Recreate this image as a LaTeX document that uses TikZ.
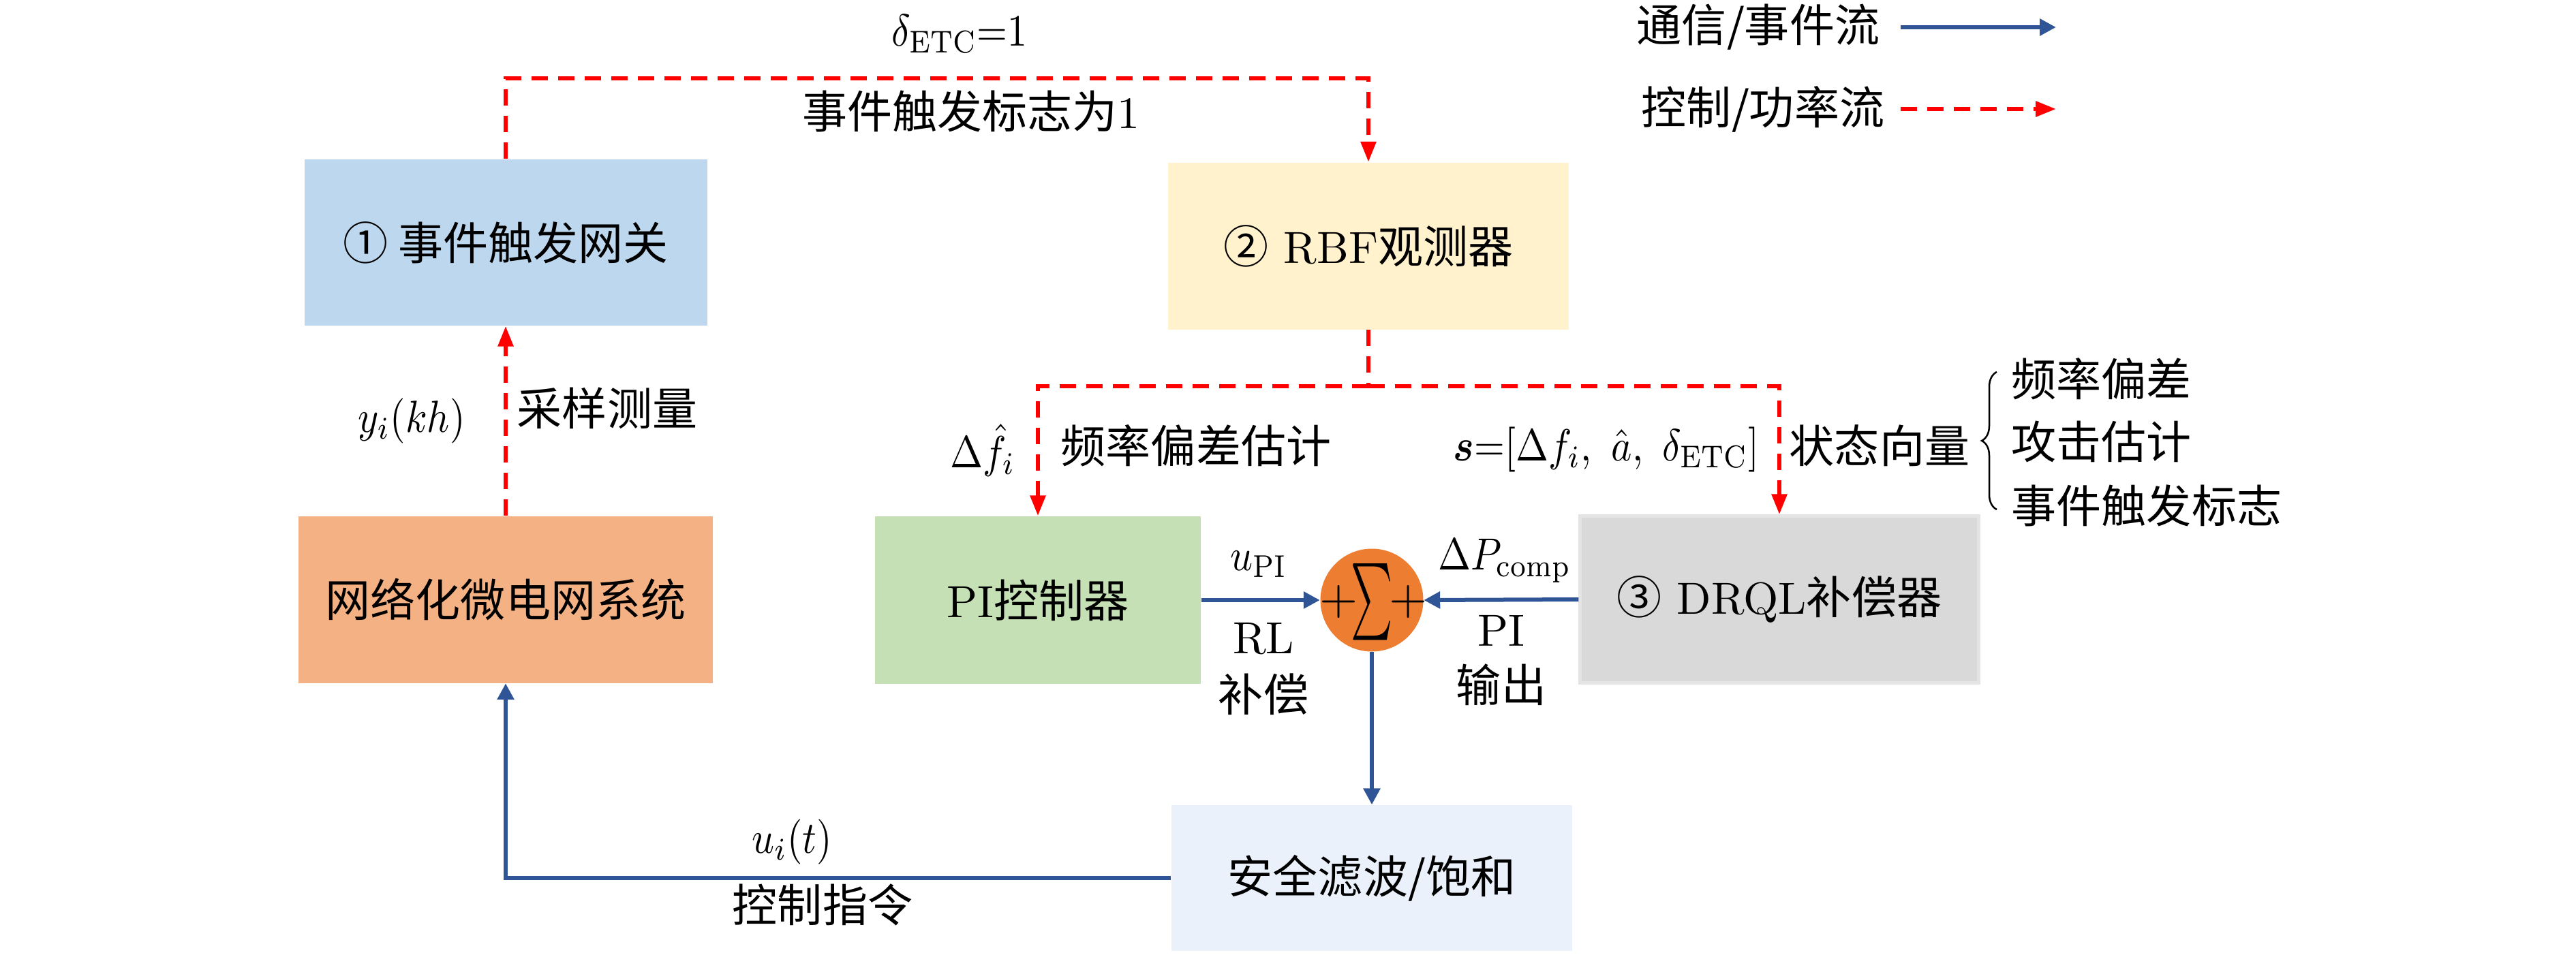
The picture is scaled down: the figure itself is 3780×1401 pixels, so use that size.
\documentclass[tikz,border=0pt]{standalone}
\usepackage{amsmath}
\usepackage{fontspec}
\newfontfamily\cjkfont{Noto Sans CJK SC}
\newcommand\zhtxt[1]{{\cjkfont #1}}
\newcommand\sz[1]{\scalebox{1.88}{#1}}
\newcommand\szm[1]{\scalebox{1.64}[1.88]{#1}}
\newcommand\vc[1]{\vcenter{\hbox{#1}}}
\usetikzlibrary{arrows.meta,decorations.pathreplacing}
\definecolor{cgate}{RGB}{189,215,238}
\definecolor{crbf}{RGB}{255,242,204}
\definecolor{cpi}{RGB}{197,224,180}
\definecolor{cdrql}{RGB}{217,217,217}
\definecolor{cdrqlb}{RGB}{228,228,228}
\definecolor{cnet}{RGB}{244,177,131}
\definecolor{csafe}{RGB}{234,241,250}
\definecolor{csum}{RGB}{237,125,49}
\definecolor{cblue}{RGB}{47,85,151}
\definecolor{cred}{RGB}{255,0,0}
\begin{document}
\begin{tikzpicture}[x=0.1mm,y={(0,-0.1mm)},
  font=\fontsize{10}{12}\selectfont,
  blockbox/.style={rectangle, draw=none, inner sep=0pt, align=center},
  blueflow/.style={draw=cblue, line width=0.6mm, -{Triangle[length=2.4mm,width=2.4mm]}},
  redline/.style={draw=cred, line width=0.6mm, dash pattern=on 2.4mm off 1.5mm},
  redflow/.style={redline, -{Triangle[length=3mm,width=2.2mm]}},
  lbl/.style={inner sep=0pt}]
\useasboundingbox (0,0) rectangle (3780,1401);

% blocks
\node[blockbox, fill=cgate, minimum width=59.1mm, minimum height=24.4mm] (gate) at (742,356) {\sz{\zhtxt{① 事件触发网关}}};
\node[blockbox, fill=crbf, minimum width=58.8mm, minimum height=24.5mm] (rbf) at (2008,361) {\sz{\zhtxt{②} RBF\zhtxt{观测器}}};
\node[blockbox, fill=cpi, minimum width=47.8mm, minimum height=24.6mm] (pi) at (1523,881) {\sz{PI\zhtxt{控制器}}};
\node[blockbox, fill=cdrql, draw=cdrqlb, line width=0.45mm, minimum width=58.5mm, minimum height=24.5mm] (drql) at (2611,880) {\sz{\zhtxt{③} DRQL\zhtxt{补偿器}}};
\node[blockbox, fill=cnet, minimum width=60.8mm, minimum height=24.5mm] (net) at (742,880) {\sz{\zhtxt{网络化微电网系统}}};
\node[blockbox, fill=csafe, minimum width=58.8mm, minimum height=21.4mm] (safe) at (2013,1289) {\sz{\zhtxt{安全滤波/饱和}}};
\node[circle, fill=csum, minimum size=15.1mm, inner sep=0pt] (sum) at (2013,881) {};
\node[lbl] (sigma) at (2013,884) {$\vc{\scalebox{1.65}[3.2]{$\sum$}}$};
\node[lbl] (plusl) at (1964,883) {\scalebox{2.05}{$+$}};
\node[lbl] (plusr) at (2066,883) {\scalebox{2.05}{$+$}};

% red dashed connectors
\coordinate (topl) at (742,115);
\draw[redflow] (gate.north) -- (topl) -| (rbf.north);
\draw[redflow] (net.north) -- (gate.south);
\coordinate (split) at (2008,567);
\draw[redline] (rbf.south) -- (split);
\draw[redflow] (split) -| (pi.north);
\draw[redflow] (split) -| (drql.north);

% blue connectors
\draw[blueflow] (pi.east) -- (sum.west);
\draw[blueflow] (drql.west) -- (sum.east);
\draw[blueflow] (sum.south) -- (safe.north);
\draw[blueflow] (safe.west) -| (net.south);

% labels
\node[lbl] (ldelta) at (1408,50) {\szm{$\delta_{\mathrm{ETC}}$=1}};
\node[lbl] (lflag) at (1425,163) {\sz{\zhtxt{事件触发标志为}1}};
\node[lbl] (lykh) at (604,618) {\szm{$y_i(kh)$}};
\node[lbl] (lsamp) at (891,599) {\sz{\zhtxt{采样测量}}};
\node[lbl] (ldf) at (1442,661) {\szm{$\Delta\hat{f}_i$}};
\node[lbl] (lfest) at (1755,654) {\sz{\zhtxt{频率偏差估计}}};
\node[lbl] (lsvec) at (2357,660) {\szm{$\boldsymbol{s}{=}[\Delta f_i,\ \hat{a},\ \delta_{\mathrm{ETC}}]$}};
\node[lbl] (lstate) at (2758,654) {\sz{\zhtxt{状态向量}}};
\draw[decorate, decoration={brace, amplitude=2.2mm}, line width=0.25mm] (2930,748) -- (2930,546);
\node[lbl, anchor=west] (li1) at (2951,556) {\sz{\zhtxt{频率偏差}}};
\node[lbl, anchor=west] (li2) at (2951,648) {\sz{\zhtxt{攻击估计}}};
\node[lbl, anchor=west] (li3) at (2951,742) {\sz{\zhtxt{事件触发标志}}};
\node[lbl] (lupi) at (1847,828) {\szm{$u_{\mathrm{PI}}$}};
\node[lbl] (lrl) at (1854,938) {\sz{RL}};
\node[lbl] (lcomp) at (1854,1019) {\sz{\zhtxt{补偿}}};
\node[lbl] (ldp) at (2208,823) {\szm{$\Delta P_{\mathrm{comp}}$}};
\node[lbl] (lpi) at (2203,926) {\sz{PI}};
\node[lbl] (lout) at (2203,1005) {\sz{\zhtxt{输出}}};
\node[lbl] (lut) at (1162,1236) {\szm{$u_i(t)$}};
\node[lbl] (lcmd) at (1207,1328) {\sz{\zhtxt{控制指令}}};

% legend
\node[lbl] (leg1) at (2580,40) {\sz{\zhtxt{通信/事件流}}};
\node[lbl] (leg2) at (2587,160) {\sz{\zhtxt{控制/功率流}}};
\coordinate (l1a) at (2789,40);
\coordinate (l1b) at (3017,40);
\coordinate (l2a) at (2789,160);
\coordinate (l2b) at (3017,160);
\draw[blueflow] (l1a) -- (l1b);
\draw[redflow] (l2a) -- (l2b);
\end{tikzpicture}
\end{document}
